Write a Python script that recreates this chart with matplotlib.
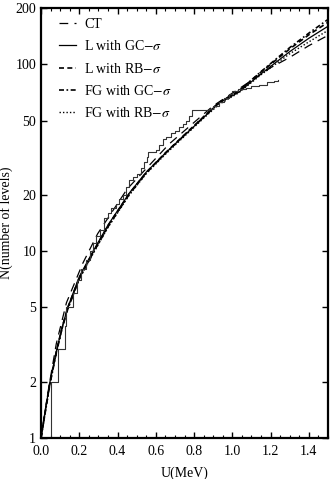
import numpy as np
import matplotlib.pyplot as plt
from matplotlib.ticker import FixedLocator, MultipleLocator, NullLocator

plt.rcParams['font.family'] = ['Liberation Serif', 'DejaVu Serif']
plt.rcParams['mathtext.fontset'] = 'stix'

# experimental staircase (U in MeV, cumulative number of levels)
stair_u = [0.0, 0.052, 0.088, 0.125, 0.13, 0.166, 0.19, 0.21, 0.235, 0.255, 0.27,
           0.29, 0.31, 0.33, 0.35, 0.365, 0.39, 0.41, 0.43, 0.445, 0.46, 0.48,
           0.50, 0.52, 0.54, 0.555, 0.56, 0.60, 0.615, 0.635, 0.655, 0.68, 0.70,
           0.72, 0.74, 0.76, 0.775, 0.79, 0.88, 0.90, 0.93, 0.955, 0.98, 1.0,
           1.03, 1.07, 1.10, 1.14, 1.18, 1.22, 1.24]
stair_n = [1, 2, 3, 4, 5, 6, 7, 8, 9, 10, 11,
           12, 13, 15, 16, 17, 18, 19, 20, 22, 24, 25,
           26, 28, 30, 32, 34, 35, 37, 40, 41, 43, 44,
           46, 48, 50, 53, 57, 58, 60, 63, 66, 69, 72,
           74, 75, 77, 78, 80, 81, 82]

# constant temperature model
ct_u = [0.0, 0.04, 0.08, 0.133, 0.218, 0.296, 0.45, 0.67, 0.9, 1.1, 1.2, 1.3, 1.4, 1.5]
ct_n = [1.0, 1.85, 3.2, 5.3, 8.6, 12.4, 21.5, 37.5, 60.0, 82.0, 96.0, 109.0, 126.0, 143.0]

# level density models
u_grid = [0.0, 0.02, 0.047, 0.08, 0.11, 0.14, 0.2, 0.27, 0.35, 0.462, 0.55, 0.65,
          0.758, 0.85, 0.93, 1.034, 1.15, 1.3, 1.4, 1.5]
l_gc = [1.0, 1.35, 2.0, 2.9, 3.9, 5.0, 7.3, 9.9, 13.8, 20.5, 26.5, 33.5,
        42.5, 52.0, 62.0, 71.0, 89.0, 117.0, 138.0, 160.0]
l_rb = [1.0, 1.35, 2.0, 2.9, 3.9, 5.0, 7.2, 9.8, 13.7, 20.4, 26.4, 33.6,
        42.8, 52.5, 62.5, 72.0, 91.0, 121.0, 144.0, 168.0]
fg_gc = [1.0, 1.33, 1.95, 2.85, 3.85, 4.9, 7.1, 9.7, 13.5, 20.2, 26.2, 33.4,
         42.6, 52.3, 62.3, 72.0, 91.5, 123.0, 147.0, 174.0]
fg_rb = [1.0, 1.33, 1.95, 2.85, 3.85, 4.9, 7.1, 9.6, 13.4, 20.0, 26.0, 33.0,
         42.0, 51.5, 61.0, 70.5, 88.0, 114.0, 132.0, 152.0]

fig = plt.figure(figsize=(3.32, 4.79), dpi=100)
ax = fig.add_axes([0.1235, 0.0856, 0.8645, 0.8974])

ax.plot(ct_u, ct_n, color='black', lw=0.9, dashes=(7, 5), label='CT')
ax.plot(u_grid, l_gc, color='black', lw=0.9, label=r'L with GC$-\sigma$')
ax.plot(u_grid, l_rb, color='black', lw=1.2, dashes=(3, 2), label=r'L with RB$-\sigma$')
ax.plot(u_grid, fg_gc, color='black', lw=1.2, dashes=(3, 1.5, 1, 1.5), label=r'FG with GC$-\sigma$')
ax.plot(u_grid, fg_rb, color='black', lw=1.0, dashes=(1, 1.5), label=r'FG with RB$-\sigma$')
ax.plot(stair_u, stair_n, color='#333333', lw=0.8, drawstyle='steps-post')

ax.set_yscale('log')
ax.set_xlim(0, 1.5)
ax.set_ylim(1, 200)

ax.xaxis.set_major_locator(MultipleLocator(0.2))
ax.xaxis.set_minor_locator(MultipleLocator(0.05))
ax.xaxis.set_major_formatter(plt.FuncFormatter(lambda v, p: f'{v:.1f}'))
ax.yaxis.set_major_locator(FixedLocator([1, 2, 5, 10, 20, 50, 100, 200]))
ax.yaxis.set_minor_locator(NullLocator())
ax.yaxis.set_major_formatter(plt.FuncFormatter(lambda v, p: f'{v:g}'))

ax.tick_params(which='both', direction='in', top=True, right=True, labelsize=10)
ax.tick_params(which='major', length=4, width=1.0)
ax.tick_params(which='minor', length=2, width=0.8)
ax.tick_params(axis='x', pad=5)
for s in ax.spines.values():
    s.set_linewidth(1.6)

ax.set_xlabel('U(MeV)', fontsize=10, labelpad=6)
ax.set_ylabel('N(number of levels)', fontsize=10, labelpad=2)

ax.legend(loc='upper left', frameon=False, fontsize=10, handlelength=1.2,
          handletextpad=0.6, labelspacing=0.6, borderaxespad=0.3,
          bbox_to_anchor=(0.03, 1.0))

fig.savefig('out.png', dpi=100)
